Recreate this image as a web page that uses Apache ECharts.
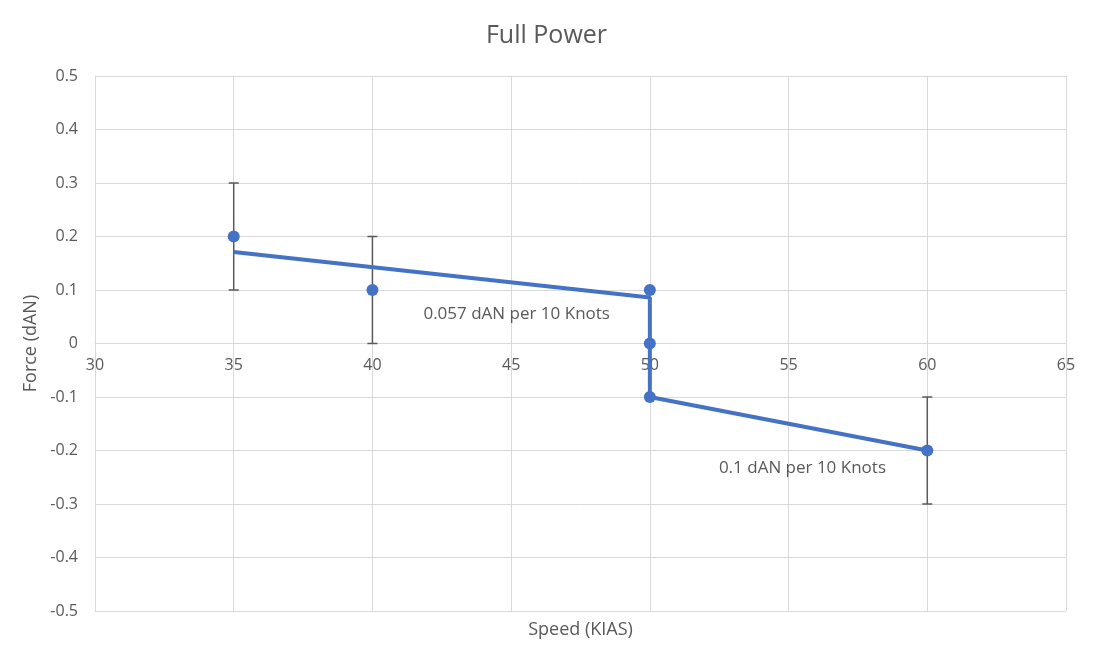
<!DOCTYPE html>
<html>
<head>
<meta charset="utf-8">
<script src="https://cdn.jsdelivr.net/npm/echarts@6/dist/echarts.min.js"></script>
<style>html,body{margin:0;padding:0;background:#fff}#c{width:1093px;height:659px}</style>
</head>
<body>
<div id="c"></div>
<script>
const speeds = [35, 40, 50, 50, 50, 60];
const forces = [0.2, 0.1, 0.1, 0, -0.1, -0.2];
const errSpeeds = [35, 40, 60];
const errLow = [0.1, 0.0, -0.3];
const errHigh = [0.3, 0.2, -0.1];
const trendX = [35, 50, 50, 60];
const trendY = [0.171, 0.086, -0.1, -0.2];
const noteText = ['0.057 dAN per 10 Knots', '0.1 dAN per 10 Knots'];
const noteX = [45.2, 55.5];
const noteY = [0.055, -0.233];
const xTicks = [30, 35, 40, 45, 50, 55, 60, 65];
const yTicks = [-0.5, -0.4, -0.3, -0.2, -0.1, 0, 0.1, 0.2, 0.3, 0.4, 0.5];

const FONT = '"Open Sans", "Liberation Sans", sans-serif';
const BLUE = '#4472C4';
const GREY = '#595959';
const GRID_TOP = 76, GRID_BOTTOM = 48, H = 659;
const plotH = H - GRID_TOP - GRID_BOTTOM;
const zeroOffset = plotH / 2;

const chart = echarts.init(document.getElementById('c'), null, {renderer: 'canvas'});
chart.setOption({
  animation: false,
  textStyle: {fontFamily: FONT},
  title: {
    text: 'Full Power', left: 'center', top: 18,
    textStyle: {fontFamily: FONT, fontSize: 25, fontWeight: 'normal', color: GREY}
  },
  grid: {left: 95, right: 27, top: GRID_TOP, bottom: GRID_BOTTOM, containLabel: false},
  xAxis: {
    type: 'value', min: xTicks[0], max: xTicks[xTicks.length - 1], interval: 5,
    position: 'bottom', offset: -zeroOffset,
    name: 'Speed (KIAS)', nameLocation: 'middle', nameGap: zeroOffset + 10,
    nameTextStyle: {fontFamily: FONT, fontSize: 18, color: GREY, verticalAlign: 'top'},
    axisLine: {onZero: false, lineStyle: {color: '#D9D9D9', width: 1}},
    axisTick: {show: false},
    axisLabel: {fontFamily: FONT, fontSize: 16, color: GREY, margin: 14},
    splitLine: {show: true, lineStyle: {color: '#D9D9D9', width: 1}}
  },
  yAxis: {
    type: 'value', min: yTicks[0], max: yTicks[yTicks.length - 1], interval: 0.1,
    name: 'Force (dAN)', nameLocation: 'middle', nameGap: 53, nameRotate: 90,
    nameTextStyle: {fontFamily: FONT, fontSize: 18, color: GREY},
    axisLine: {show: true, onZero: false, lineStyle: {color: '#D9D9D9', width: 1}},
    axisTick: {show: false},
    axisLabel: {fontFamily: FONT, fontSize: 16, color: GREY, margin: 17,
      formatter: v => String(+(+v).toFixed(1))},
    splitLine: {show: true, lineStyle: {color: '#D9D9D9', width: 1}}
  },
  series: [
    {
      type: 'custom',
      z: 3,
      data: errSpeeds.map((s, i) => [s, errLow[i], errHigh[i]]),
      renderItem: function (params, api) {
        const lo = api.coord([api.value(0), api.value(1)]);
        const hi = api.coord([api.value(0), api.value(2)]);
        const w = 5;
        const style = {stroke: GREY, lineWidth: 1.5};
        return {
          type: 'group',
          children: [
            {type: 'line', shape: {x1: hi[0], y1: hi[1], x2: lo[0], y2: lo[1]}, style},
            {type: 'line', shape: {x1: hi[0] - w, y1: hi[1], x2: hi[0] + w, y2: hi[1]}, style},
            {type: 'line', shape: {x1: lo[0] - w, y1: lo[1], x2: lo[0] + w, y2: lo[1]}, style}
          ]
        };
      }
    },
    {
      type: 'line',
      z: 4,
      data: trendX.map((x, i) => [x, trendY[i]]),
      showSymbol: false,
      lineStyle: {color: BLUE, width: 4},
      itemStyle: {color: BLUE}
    },
    {
      type: 'scatter',
      z: 5,
      data: speeds.map((s, i) => [s, forces[i]]),
      symbol: 'circle', symbolSize: 12,
      itemStyle: {color: BLUE, opacity: 1}
    },
    {
      type: 'scatter',
      z: 6,
      data: noteX.map((x, i) => ({value: [x, noteY[i]], name: noteText[i]})),
      symbolSize: 0,
      itemStyle: {opacity: 1},
      label: {
        show: true, position: 'inside', formatter: p => p.name,
        fontFamily: FONT, fontSize: 17, color: GREY,
        textBorderWidth: 0, opacity: 1
      }
    }
  ]
});
</script>
</body>
</html>
